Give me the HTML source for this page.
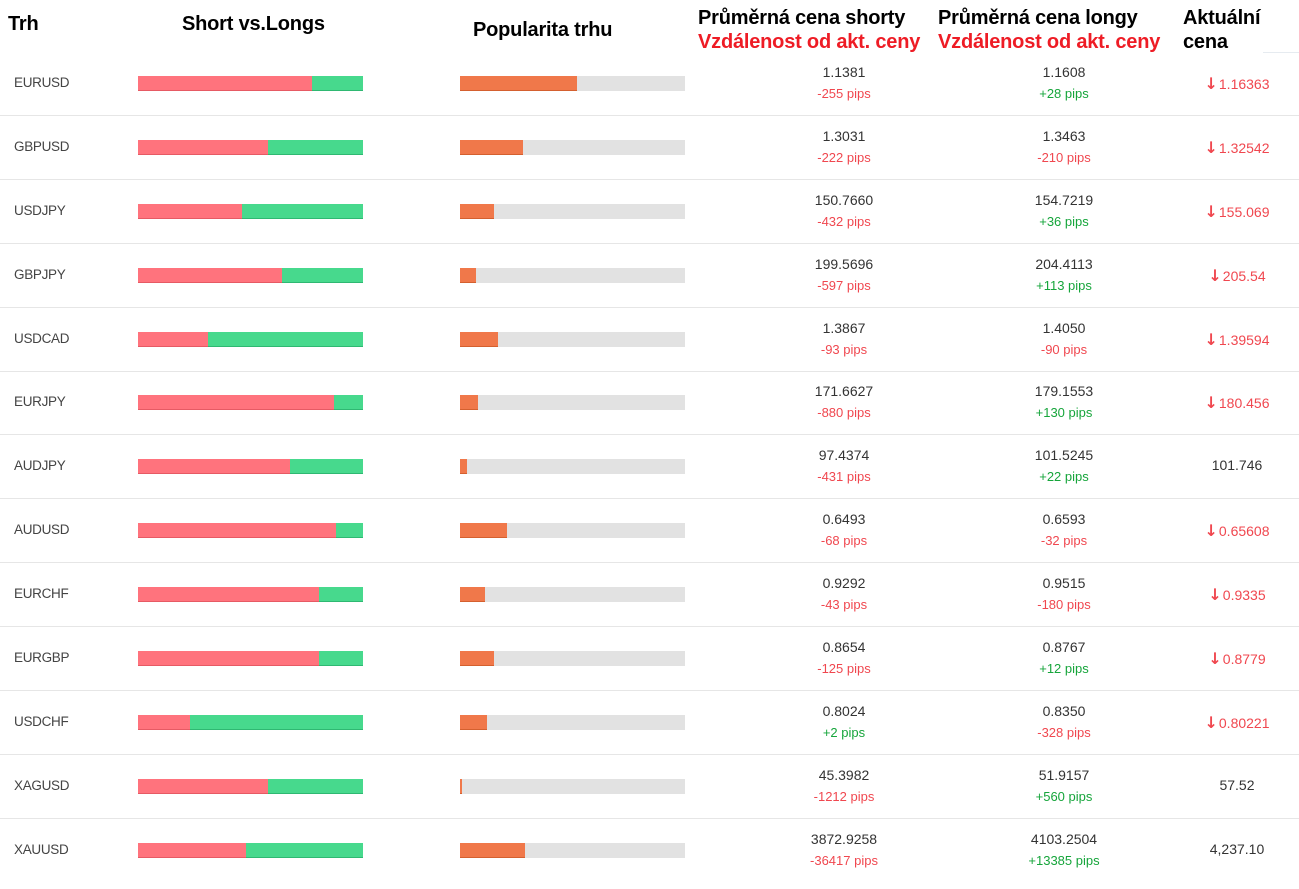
<!DOCTYPE html>
<html><head><meta charset="utf-8"><style>
*{margin:0;padding:0;box-sizing:border-box}
body{width:1299px;height:889px;background:#fff;font-family:"Liberation Sans",Arial,sans-serif;position:relative;overflow:hidden}
.h{position:absolute;font-weight:bold;font-size:20px;line-height:24px;color:#000;white-space:nowrap;letter-spacing:-0.2px}
.r{color:#ee1c25}
.row{position:absolute;left:0;width:1299px;height:64px;border-bottom:1px solid #e6e6e6}
.n{position:absolute;left:14px;top:23px;font-size:13.5px;color:#444;letter-spacing:-0.3px}
.sl{position:absolute;left:138px;top:24px;width:225px;height:15px;background:#47d98d;border-bottom:1px solid #2fb872}
.sl i{position:absolute;left:0;top:0;height:15px;background:#ff737d;border-bottom:1px solid #e65a64}
.pb{position:absolute;left:460px;top:24px;width:225px;height:15px;background:#e2e2e2}
.pb i{position:absolute;left:0;top:0;height:15px;background:#f0784a;border-bottom:1px solid #d4602f}
.v{position:absolute;width:200px;text-align:center;font-size:14px;color:#333}
.v b{display:block;font-weight:normal;line-height:16px}
.v s{display:block;text-decoration:none;font-size:13px;line-height:16px;margin-top:6px}
.s{left:744px;top:12px}.l{left:964px;top:12px}
.neg{color:#f0474f}.pos{color:#16a53b}
.c{position:absolute;left:1177px;width:120px;text-align:center;top:22px;font-size:14px}
.dn{color:#f0474f}.dn:before{content:"\2193";font-family:"DejaVu Sans",sans-serif;font-weight:bold;font-size:16px;margin-right:1px}
</style></head><body>
<div class="h" style="left:8px;top:12px">Trh</div>
<div class="h" style="left:182px;top:12px">Short vs.Longs</div>
<div class="h" style="left:473px;top:18px">Popularita trhu</div>
<div class="h" style="left:698px;top:6px">Průměrná cena shorty<br><span class="r">Vzdálenost od akt. ceny</span></div>
<div class="h" style="left:938px;top:6px">Průměrná cena longy<br><span class="r">Vzdálenost od akt. ceny</span></div>
<div class="h" style="left:1183px;top:6px">Aktuální<br>cena</div>
<div style="position:absolute;left:1263px;top:52px;width:36px;border-top:1px solid #e6ebf0"></div>

<div class="row" style="top:52px"><div class="n">EURUSD</div><div class="sl"><i style="width:174px"></i></div><div class="pb"><i style="width:117px"></i></div><div class="v s"><b>1.1381</b><s class="neg">-255 pips</s></div><div class="v l"><b>1.1608</b><s class="pos">+28 pips</s></div><div class="c dn">1.16363</div></div>
<div class="row" style="top:116px"><div class="n">GBPUSD</div><div class="sl"><i style="width:130px"></i></div><div class="pb"><i style="width:63px"></i></div><div class="v s"><b>1.3031</b><s class="neg">-222 pips</s></div><div class="v l"><b>1.3463</b><s class="neg">-210 pips</s></div><div class="c dn">1.32542</div></div>
<div class="row" style="top:180px"><div class="n">USDJPY</div><div class="sl"><i style="width:104px"></i></div><div class="pb"><i style="width:34px"></i></div><div class="v s"><b>150.7660</b><s class="neg">-432 pips</s></div><div class="v l"><b>154.7219</b><s class="pos">+36 pips</s></div><div class="c dn">155.069</div></div>
<div class="row" style="top:244px"><div class="n">GBPJPY</div><div class="sl"><i style="width:144px"></i></div><div class="pb"><i style="width:16px"></i></div><div class="v s"><b>199.5696</b><s class="neg">-597 pips</s></div><div class="v l"><b>204.4113</b><s class="pos">+113 pips</s></div><div class="c dn">205.54</div></div>
<div class="row" style="top:308px"><div class="n">USDCAD</div><div class="sl"><i style="width:70px"></i></div><div class="pb"><i style="width:38px"></i></div><div class="v s"><b>1.3867</b><s class="neg">-93 pips</s></div><div class="v l"><b>1.4050</b><s class="neg">-90 pips</s></div><div class="c dn">1.39594</div></div>
<div class="row" style="top:371px"><div class="n">EURJPY</div><div class="sl"><i style="width:196px"></i></div><div class="pb"><i style="width:18px"></i></div><div class="v s"><b>171.6627</b><s class="neg">-880 pips</s></div><div class="v l"><b>179.1553</b><s class="pos">+130 pips</s></div><div class="c dn">180.456</div></div>
<div class="row" style="top:435px"><div class="n">AUDJPY</div><div class="sl"><i style="width:152px"></i></div><div class="pb"><i style="width:7px"></i></div><div class="v s"><b>97.4374</b><s class="neg">-431 pips</s></div><div class="v l"><b>101.5245</b><s class="pos">+22 pips</s></div><div class="c" style="color:#333">101.746</div></div>
<div class="row" style="top:499px"><div class="n">AUDUSD</div><div class="sl"><i style="width:198px"></i></div><div class="pb"><i style="width:47px"></i></div><div class="v s"><b>0.6493</b><s class="neg">-68 pips</s></div><div class="v l"><b>0.6593</b><s class="neg">-32 pips</s></div><div class="c dn">0.65608</div></div>
<div class="row" style="top:563px"><div class="n">EURCHF</div><div class="sl"><i style="width:181px"></i></div><div class="pb"><i style="width:25px"></i></div><div class="v s"><b>0.9292</b><s class="neg">-43 pips</s></div><div class="v l"><b>0.9515</b><s class="neg">-180 pips</s></div><div class="c dn">0.9335</div></div>
<div class="row" style="top:627px"><div class="n">EURGBP</div><div class="sl"><i style="width:181px"></i></div><div class="pb"><i style="width:34px"></i></div><div class="v s"><b>0.8654</b><s class="neg">-125 pips</s></div><div class="v l"><b>0.8767</b><s class="pos">+12 pips</s></div><div class="c dn">0.8779</div></div>
<div class="row" style="top:691px"><div class="n">USDCHF</div><div class="sl"><i style="width:52px"></i></div><div class="pb"><i style="width:27px"></i></div><div class="v s"><b>0.8024</b><s class="pos">+2 pips</s></div><div class="v l"><b>0.8350</b><s class="neg">-328 pips</s></div><div class="c dn">0.80221</div></div>
<div class="row" style="top:755px"><div class="n">XAGUSD</div><div class="sl"><i style="width:130px"></i></div><div class="pb"><i style="width:2px"></i></div><div class="v s"><b>45.3982</b><s class="neg">-1212 pips</s></div><div class="v l"><b>51.9157</b><s class="pos">+560 pips</s></div><div class="c" style="color:#333">57.52</div></div>
<div class="row" style="top:819px;border-bottom:none"><div class="n">XAUUSD</div><div class="sl"><i style="width:108px"></i></div><div class="pb"><i style="width:65px"></i></div><div class="v s"><b>3872.9258</b><s class="neg">-36417 pips</s></div><div class="v l"><b>4103.2504</b><s class="pos">+13385 pips</s></div><div class="c" style="color:#333">4,237.10</div></div>
</body></html>
